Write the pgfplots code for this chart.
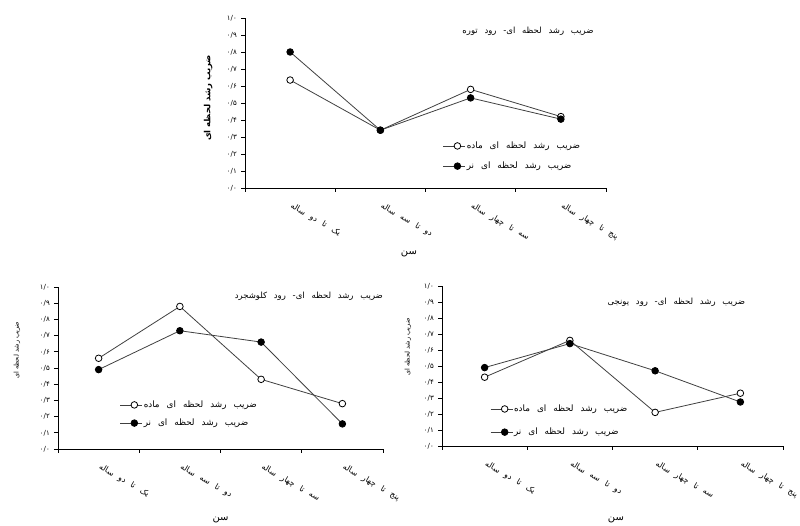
\documentclass[border=0pt]{standalone}
\usepackage{pgfplots}
\pgfplotsset{compat=1.18}
\usepackage{fontspec}
\setmainfont{DejaVu Sans}
\newfontfamily\farsi[Script=Arabic, WordSpace=2.5]{DejaVu Sans}
\newfontfamily\farsiN[Script=Arabic, Scale=0.9999]{DejaVu Sans}
\TeXXeTstate=1
\definecolor{ln}{RGB}{64,64,64}

\pgfplotsset{
  panel/.style={
    scale only axis,
    axis lines=left,
    axis line style={black, line width=0.9pt, -},
    xmin=0.5, xmax=4.5, ymin=0, ymax=1,
    xtick={0.5,1.5,2.5,3.5,4.5},
    xticklabel=\empty,
    extra x ticks={1,2,3,4},
    extra x tick labels={{\farsi\beginR یک تا دو ساله\endR},{\farsi\beginR دو تا سه ساله\endR},{\farsi\beginR سه تا چهار ساله\endR},{\farsi\beginR پنج تا چهار ساله\endR}},
    extra x tick style={major tick length=0pt,
      xticklabel style={xshift=3pt, yshift=-14pt, rotate=-30, anchor=north west, inner sep=0pt,
        font=\fontsize{8}{9}\selectfont}},
    ytick={0,0.1,0.2,0.3,0.4,0.5,0.6,0.7,0.8,0.9,1},
    yticklabels={{۰/۰},{۰/۱},{۰/۲},{۰/۳},{۰/۴},{۰/۵},{۰/۶},{۰/۷},{۰/۸},{۰/۹},{۱/۰}},
    yticklabel style={font=\farsiN\fontsize{7}{8}\selectfont, inner sep=1pt, xshift=-3pt},
    tick align=outside,
    major tick length=4pt,
    tick style={black, line width=0.8pt},
    clip=false,
    legend style={draw=none, fill=none, inner sep=0pt, row sep=8pt,
      font=\fontsize{8.8}{11}\selectfont, nodes={inner sep=1pt}},
    legend cell align=left,
    legend image code/.code={\draw[mark repeat=2, mark phase=2, #1]
      plot coordinates {(0pt,0pt) (14pt,0pt) (22pt,0pt)};},
    title style={font=\fontsize{8.5}{10}\selectfont, anchor=center},
    xlabel style={font=\fontsize{10}{12}\selectfont, anchor=center},
    ylabel style={font=\fontsize{6.5}{8}\selectfont, anchor=center},
    xlabel={\farsiN\beginR سن\endR},
    ylabel={\farsiN\beginR ضریب رشد لحظه ای\endR},
  },
  mada/.style={color=ln, line width=0.8pt, mark=*, mark size=3.3pt,
    mark options={fill=white, draw=black, line width=0.8pt, solid}},
  nar/.style={color=ln, line width=0.8pt, mark=*, mark size=3.3pt,
    mark options={fill=black, draw=black, solid}},
}

\begin{document}
\begin{tikzpicture}
\useasboundingbox (0,0) rectangle (800pt,526pt);
\clip (0,0) rectangle (800pt,526pt);

% Top panel: Tureh river
\begin{axis}[panel,
  at={(245pt,338pt)}, anchor=south west, width=361pt, height=170pt,
  title={\farsi\beginR ضریب رشد لحظه ای- رود توره\endR},
  title style={at={(axis description cs:0.784,0.888)}},
  xlabel style={at={(axis description cs:0.454,-0.39)}},
  ylabel style={at={(axis description cs:-0.102,0.53)}, font=\bfseries\fontsize{8.5}{10}\selectfont},
  legend style={at={(axis description cs:0.548,0.188)}, anchor=west, row sep=10pt},
]
\addplot[mada] coordinates {(1,0.635) (2,0.34) (3,0.58) (4,0.42)};
\addlegendentry{\farsi\beginR ضریب رشد لحظه ای ماده\endR}
\addplot[nar] coordinates {(1,0.80) (2,0.34) (3,0.53) (4,0.405)};
\addlegendentry{\farsi\beginR ضریب رشد لحظه ای نر\endR}
\end{axis}

% Bottom left: Kaloushjerd river
\begin{axis}[panel,
  at={(58pt,77pt)}, anchor=south west, width=325pt, height=162pt,
  title={\farsi\beginR ضریب رشد لحظه ای- رود کلوشجرد\endR},
  title style={at={(axis description cs:0.772,0.907)}},
  xlabel style={at={(axis description cs:0.5,-0.438)}},
  ylabel style={at={(axis description cs:-0.126,0.61)}},
  legend style={at={(axis description cs:0.19,0.216)}, anchor=west, row sep=8pt},
]
\addplot[mada] coordinates {(1,0.56) (2,0.88) (3,0.43) (4,0.28)};
\addlegendentry{\farsi\beginR ضریب رشد لحظه ای ماده\endR}
\addplot[nar] coordinates {(1,0.49) (2,0.73) (3,0.66) (4,0.155)};
\addlegendentry{\farsi\beginR ضریب رشد لحظه ای نر\endR}
\end{axis}

% Bottom right: Yonji river
\begin{axis}[panel,
  at={(442pt,80pt)}, anchor=south west, width=341pt, height=160pt,
  title={\farsi\beginR ضریب رشد لحظه ای- رود یونجی\endR},
  title style={at={(axis description cs:0.687,0.8625)}},
  xlabel style={at={(axis description cs:0.51,-0.46)}},
  ylabel style={at={(axis description cs:-0.10,0.62)}},
  legend style={at={(axis description cs:0.141,0.159)}, anchor=west, row sep=13pt},
]
\addplot[mada] coordinates {(1,0.43) (2,0.66) (3,0.21) (4,0.33)};
\addlegendentry{\farsi\beginR ضریب رشد لحظه ای ماده\endR}
\addplot[nar] coordinates {(1,0.49) (2,0.64) (3,0.47) (4,0.275)};
\addlegendentry{\farsi\beginR ضریب رشد لحظه ای نر\endR}
\end{axis}
\end{tikzpicture}
\end{document}
